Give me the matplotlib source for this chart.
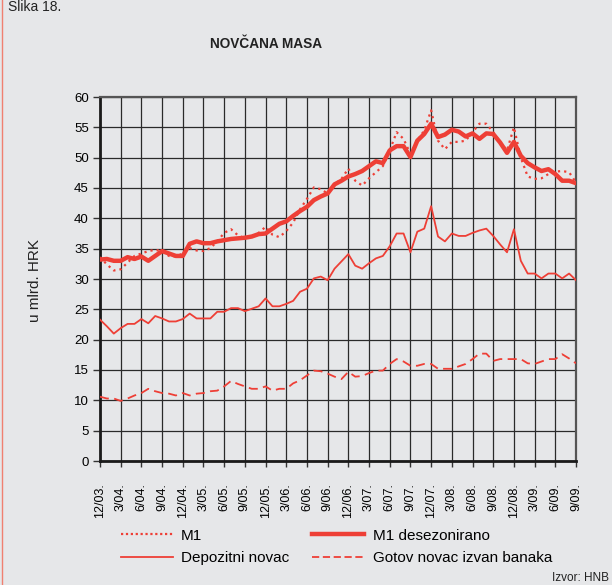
import numpy as np
import matplotlib.pyplot as plt
from matplotlib.lines import Line2D

plt.rcParams['font.family'] = ['Liberation Sans', 'DejaVu Sans']

tick_labels = ["12/03.", "3/04.", "6/04.", "9/04.", "12/04.", "3/05.", "6/05.", "9/05.",
               "12/05.", "3/06.", "6/06.", "9/06.", "12/06.", "3/07.", "6/07.", "9/07.",
               "12/07.", "3/08.", "6/08.", "9/08.", "12/08.", "3/09.", "6/09.", "9/09."]

# monthly values, 12/2003 - 9/2009, mlrd. HRK
m1 = [33.6, 32.4, 31.4, 31.6, 32.7, 33.8, 34.2, 34.6, 34.8, 34.6,
      33.8, 33.7, 34.2, 35.1, 34.7, 34.6, 35.1, 36.2, 37.6, 38.2,
      37.2, 36.7, 37.0, 37.6, 38.6, 37.3, 36.9, 37.9, 39.3, 41.5,
      43.2, 45.1, 44.8, 44.1, 45.6, 46.5, 48.2, 46.2, 45.4, 46.6,
      47.6, 48.6, 51.2, 54.2, 53.1, 50.6, 52.8, 54.5, 57.8, 52.8,
      51.4, 52.6, 52.6, 52.8, 54.2, 55.6, 55.6, 54.2, 52.5, 51.2,
      55.0, 50.0, 46.9, 46.5, 46.6, 47.3, 47.7, 47.8, 47.6, 45.9]

m1_desez = [33.2, 33.3, 33.0, 33.0, 33.6, 33.3, 33.7, 33.0, 33.8, 34.6,
            34.2, 33.8, 33.8, 35.8, 36.2, 35.9, 35.9, 36.2, 36.4, 36.6,
            36.7, 36.8, 37.0, 37.4, 37.5, 38.3, 39.1, 39.5, 40.4, 41.2,
            41.9, 43.0, 43.6, 44.1, 45.6, 46.2, 46.9, 47.3, 47.8, 48.6,
            49.4, 49.1, 51.2, 51.9, 51.9, 50.1, 52.8, 53.9, 55.6, 53.4,
            53.8, 54.6, 54.3, 53.5, 54.0, 53.1, 54.0, 53.9, 52.5, 50.8,
            52.6, 50.3, 49.1, 48.4, 47.8, 48.1, 47.3, 46.2, 46.2, 45.8]

depozitni = [23.3, 22.2, 21.0, 21.9, 22.6, 22.6, 23.4, 22.7, 23.9, 23.5,
             23.0, 23.0, 23.4, 24.3, 23.5, 23.5, 23.5, 24.6, 24.6, 25.2,
             25.2, 24.7, 25.1, 25.5, 26.8, 25.5, 25.5, 25.9, 26.4, 27.9,
             28.4, 30.1, 30.4, 29.8, 31.7, 32.9, 34.1, 32.2, 31.7, 32.6,
             33.4, 33.8, 35.4, 37.5, 37.5, 34.4, 37.8, 38.3, 42.0, 37.0,
             36.2, 37.5, 37.1, 37.1, 37.6, 38.0, 38.3, 37.1, 35.7, 34.4,
             38.2, 33.0, 30.9, 30.9, 30.1, 30.9, 30.9, 30.1, 30.9, 29.8]

gotov = [10.6, 10.3, 10.3, 9.9, 10.3, 10.8, 11.2, 11.9, 11.5, 11.2,
         11.1, 10.8, 11.2, 10.8, 11.1, 11.2, 11.5, 11.6, 12.3, 13.2,
         12.7, 12.3, 11.9, 11.9, 12.3, 11.6, 11.9, 11.9, 12.8, 13.3,
         14.1, 14.9, 14.8, 14.4, 13.9, 13.5, 14.7, 13.9, 14.0, 14.5,
         14.9, 14.9, 16.0, 16.8, 16.4, 15.7, 15.7, 16.0, 16.0, 15.2,
         15.2, 15.2, 15.6, 16.0, 16.8, 17.7, 17.7, 16.5, 16.8, 16.8,
         16.8, 16.8, 16.1, 16.0, 16.4, 16.8, 16.8, 17.6, 16.9, 16.1]

red = '#ee3f36'
bg = '#e6e7e9'

fig = plt.figure(figsize=(6.12, 5.85), dpi=100)
fig.patch.set_facecolor(bg)
ax = fig.add_axes([100/612, 1-461/585, 476/612, 364/585])
ax.set_facecolor(bg)

x = np.arange(len(m1))
ax.plot(x, m1, color=red, lw=1.6, linestyle=(0, (1, 1.8)), zorder=3)
ax.plot(x, m1_desez, color=red, lw=3.2, solid_joinstyle='round', zorder=4)
ax.plot(x, depozitni, color=red, lw=1.3, zorder=3)
ax.plot(x, gotov, color=red, lw=1.3, linestyle=(0, (5, 3)), zorder=3)

ax.set_xlim(0, len(m1) - 1)
ax.set_ylim(0, 60)
ax.set_xticks(np.arange(0, len(m1), 3))
ax.set_xticklabels(tick_labels, rotation=90, fontsize=9)
ax.set_yticks(np.arange(0, 61, 5))
ax.tick_params(axis='y', labelsize=9.5, length=5, width=1, color='#333333', pad=3)
ax.tick_params(axis='x', length=4, width=1, color='#333333', pad=12)
ax.grid(True, color='#2a2a2a', lw=0.9)
ax.set_axisbelow(True)
for s in ['left', 'bottom']:
    ax.spines[s].set_linewidth(2)
    ax.spines[s].set_color('#1a1a1a')
for s in ['top', 'right']:
    ax.spines[s].set_linewidth(1.6)
    ax.spines[s].set_color('#555555')

fig.text(266/612, 1-44/585, "NOVČANA MASA", ha='center', va='center',
         fontsize=9.8, fontweight='bold', color='#222222')
fig.text(35/612, 1-280/585, "u mlrd. HRK", rotation=90, ha='center', va='center',
         fontsize=11, color='#222222')
fig.text(8/612, 1-11/585, "Slika 18.", ha='left', va='baseline', fontsize=10, color='#222222')
fig.text(609/612, 1-578/585, "Izvor: HNB", ha='right', va='center', fontsize=8.5, color='#222222')

handles = [Line2D([], [], color=red, lw=1.6, linestyle=(0, (1, 1.2))),
           Line2D([], [], color=red, lw=1.3),
           Line2D([], [], color=red, lw=3.2),
           Line2D([], [], color=red, lw=1.3, linestyle=(0, (4, 2)))]
labels = ["M1", "Depozitni novac", "M1 desezonirano", "Gotov novac izvan banaka"]
fig.legend(handles, labels, ncol=2, loc='upper left',
           bbox_to_anchor=(107/612, 1-515/585), frameon=False, fontsize=11,
           handlelength=3.4, handletextpad=0.55, columnspacing=1.5, labelspacing=0.55)

fig.add_artist(Line2D([1.5/612, 1.5/612], [0, 1], color='#f08070', lw=1))

plt.savefig("out.png", dpi=100, facecolor=bg)
